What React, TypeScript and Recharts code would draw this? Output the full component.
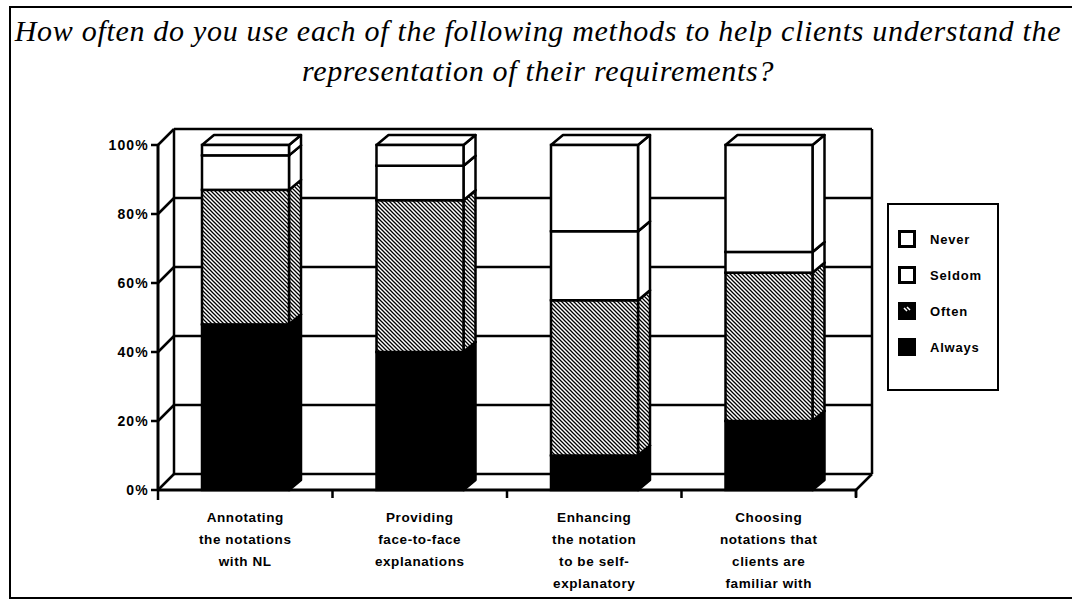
import React from 'react';
import {
  BarChart,
  Bar,
  XAxis,
  YAxis,
  CartesianGrid,
  Legend
} from 'recharts';

// categories (x labels, one line per \n)
const CATEGORIES = [
  'Annotating\nthe notations\nwith NL',
  'Providing\nface-to-face\nexplanations',
  'Enhancing\nthe notation\nto be self-\nexplanatory',
  'Choosing\nnotations that\nclients are\nfamiliar with'
];

// percentages per answer
const ALWAYS = [48, 40, 10, 20];
const OFTEN = [39, 44, 45, 43];
const SELDOM = [10, 10, 20, 6];
const NEVER = [3, 6, 25, 31];

const Y_TICKS = [0, 20, 40, 60, 80, 100];

const TITLE_1 = 'How often do you use each of the following methods to help clients understand the';
const TITLE_2 = 'representation of their requirements?';

const data = CATEGORIES.map((name, i) => ({
  name,
  Always: ALWAYS[i],
  Often: OFTEN[i],
  Seldom: SELDOM[i],
  Never: NEVER[i]
}));

const SERIES = [
  { key: 'Always', fill: '#000' },
  { key: 'Often', fill: 'url(#hatch)' },
  { key: 'Seldom', fill: '#fff' },
  { key: 'Never', fill: '#fff' }
];

const SANS = '"Liberation Sans", Arial, Helvetica, sans-serif';
const STROKE = 2.5;

// depth of the "3D" walls and of the boxes
const WALL_DX = 16;
const WALL_DY = 16;
const BOX_DX = 12;
const BOX_DY = 10;

const Box3D = (props: any) => {
  const { x, y, width, height, fill } = props;
  if (!height || height <= 0) return null;
  const side = `${x + width},${y} ${x + width + BOX_DX},${y - BOX_DY} ${x + width + BOX_DX},${y + height - BOX_DY} ${x + width},${y + height}`;
  const top = `${x},${y} ${x + BOX_DX},${y - BOX_DY} ${x + width + BOX_DX},${y - BOX_DY} ${x + width},${y}`;
  return (
    <g>
      <polygon points={side} fill={fill} stroke="#000" strokeWidth={STROKE} strokeLinejoin="round" />
      <polygon points={top} fill="#fff" stroke="#000" strokeWidth={STROKE} strokeLinejoin="round" />
      <rect x={x} y={y} width={width} height={height} fill={fill} stroke="#000" strokeWidth={STROKE} />
    </g>
  );
};

// back wall + left wall + floor, drawn as the grid so it stays under the bars
const WallLine = (props: any) => {
  const { x1, y1, x2, index, y, height } = props;
  const bottom = y + height;
  return (
    <g key={`wall-${index}`} stroke="#000" strokeWidth={STROKE} fill="none">
      <line x1={x1 + WALL_DX} y1={y1 - WALL_DY} x2={x2 + WALL_DX} y2={y1 - WALL_DY} />
      <line x1={x1} y1={y1} x2={x1 + WALL_DX} y2={y1 - WALL_DY} />
      {index === 0 && (
        <>
          <line x1={x1 + WALL_DX} y1={y - WALL_DY} x2={x1 + WALL_DX} y2={bottom - WALL_DY} />
          <line x1={x2 + WALL_DX} y1={y - WALL_DY} x2={x2 + WALL_DX} y2={bottom - WALL_DY} />
          <line x1={x2} y1={bottom} x2={x2 + WALL_DX} y2={bottom - WALL_DY} />
          <line x1={x2} y1={bottom} x2={x2} y2={bottom + 7} />
        </>
      )}
    </g>
  );
};

const CategoryTick = (props: any) => {
  const { x, y, payload, index, width } = props;
  const band = (width || 698) / CATEGORIES.length;
  const lines = String(payload.value).split('\n');
  return (
    <g>
      <line x1={x + band / 2} y1={y - 8} x2={x + band / 2} y2={y} stroke="#000" strokeWidth={STROKE} />
      {index === 0 && (
        <line x1={x - band / 2} y1={y - 8} x2={x - band / 2} y2={y + 2} stroke="#000" strokeWidth={STROKE} />
      )}
      <text textAnchor="middle" fontFamily={SANS} fontWeight="bold" fontSize={13.5} letterSpacing={0.6} fill="#000">
        {lines.map((l, i) => (
          <tspan key={i} x={x} y={y + 24 + i * 22}>{l}</tspan>
        ))}
      </text>
    </g>
  );
};

const LegendSwatch = ({ name }: { name: string }) => {
  const base: React.CSSProperties = { width: 12, height: 12, border: '3px solid #000', boxSizing: 'content-box' };
  if (name === 'Always') return <div style={{ ...base, background: '#000' }} />;
  if (name === 'Often') {
    return (
      <svg width={18} height={18} style={{ display: 'block' }}>
        <rect x={0} y={0} width={18} height={18} fill="#000" />
        <path d="M6,6 L9,9 M9,5 L12,8" stroke="#fff" strokeWidth={1.5} />
      </svg>
    );
  }
  return <div style={{ ...base, background: '#fff' }} />;
};

const BoxLegend = () => (
  <div
    style={{
      border: '2.5px solid #000',
      width: 112,
      height: 188,
      boxSizing: 'border-box',
      paddingTop: 16,
      paddingLeft: 9
    }}
  >
    {['Never', 'Seldom', 'Often', 'Always'].map((name) => (
      <div key={name} style={{ display: 'flex', alignItems: 'center', height: 36 }}>
        <LegendSwatch name={name} />
        <span
          style={{
            marginLeft: 14,
            fontFamily: SANS,
            fontWeight: 'bold',
            fontSize: 13,
            letterSpacing: 0.8,
            color: '#000'
          }}
        >
          {name}
        </span>
      </div>
    ))}
  </div>
);

export default function App() {
  return (
    <div
      style={{
        position: 'absolute',
        left: 0,
        top: 0,
        width: 1072,
        height: 601,
        overflow: 'hidden',
        background: '#fff'
      }}
    >
      <svg width={0} height={0} style={{ position: 'absolute' }}>
        <defs>
          <pattern id="hatch" patternUnits="userSpaceOnUse" width={4} height={4}>
            <rect width={4} height={4} fill="#fff" />
            <path d="M-1,-1 L5,5 M-1,3 L1,5 M3,-1 L5,1" stroke="#000" strokeWidth={1.3} />
          </pattern>
        </defs>
      </svg>

      <div
        style={{
          position: 'absolute',
          left: 9,
          top: 6,
          width: 1100,
          height: 589,
          border: '2.5px solid #000'
        }}
      />

      <div
        style={{
          position: 'absolute',
          left: 0,
          width: 1076,
          top: 11,
          textAlign: 'center',
          fontFamily: '"Liberation Serif", "Times New Roman", serif',
          fontStyle: 'italic',
          fontSize: 30,
          letterSpacing: 0.7,
          lineHeight: '40px',
          color: '#000',
          whiteSpace: 'nowrap'
        }}
      >
        <div>{TITLE_1}</div>
        <div>{TITLE_2}</div>
      </div>

      <div style={{ position: 'absolute', left: 0, top: 0 }}>
        <BarChart
          width={1072}
          height={601}
          data={data}
          barSize={87}
          margin={{ top: 145, right: 216, bottom: 6, left: 98 }}
        >
          <CartesianGrid vertical={false} horizontal={WallLine} stroke="#000" />
          <XAxis
            dataKey="name"
            interval={0}
            height={105}
            tickLine={false}
            tick={<CategoryTick />}
            axisLine={{ stroke: '#000', strokeWidth: 3 }}
          />
          <YAxis
            domain={[0, 100]}
            ticks={Y_TICKS}
            width={60}
            tickFormatter={(v) => `${v}%`}
            tick={{ fontFamily: SANS, fontWeight: 'bold', fontSize: 14, letterSpacing: 1.2, fill: '#000' }}
            tickLine={{ stroke: '#000', strokeWidth: STROKE }}
            tickSize={7}
            axisLine={{ stroke: '#000', strokeWidth: 3 }}
          />
          <Legend
            layout="vertical"
            align="center"
            verticalAlign="middle"
            content={<BoxLegend />}
            wrapperStyle={{ left: 887, top: 203, width: 112, height: 188 }}
          />
          {SERIES.map((s) => (
            <Bar
              key={s.key}
              dataKey={s.key}
              stackId="a"
              fill={s.fill}
              shape={<Box3D />}
              isAnimationActive={false}
            />
          ))}
        </BarChart>
      </div>
    </div>
  );
}
